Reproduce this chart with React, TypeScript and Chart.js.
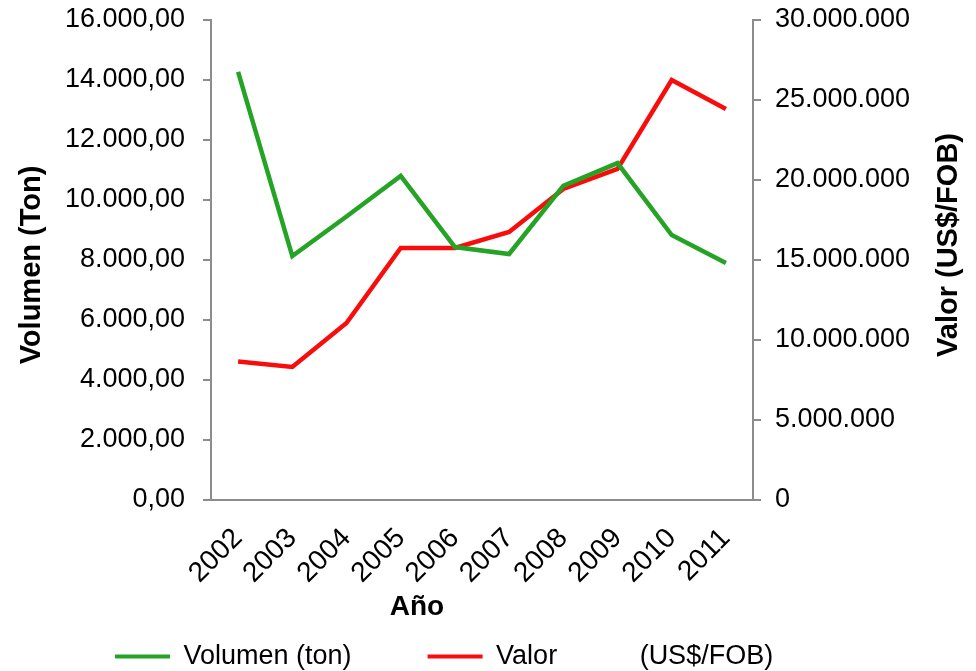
import React, { useEffect, useRef } from 'react';
import { Chart, registerables } from 'chart.js';

Chart.register(...registerables);

const FONT = '"Liberation Sans", Arial, sans-serif';

const years = ['2002', '2003', '2004', '2005', '2006', '2007', '2008', '2009', '2010', '2011'];
const volumenTon = [14270, 8130, 9450, 10800, 8430, 8200, 10470, 11230, 8830, 7900];
const valorUSD = [8650000, 8310000, 11060000, 15750000, 15750000, 16750000, 19440000, 20690000, 26250000, 24440000];

const seriesNames = ['Volumen (ton)', 'Valor           (US$/FOB)'];
const yLeftTitle = 'Volumen (Ton)';
const yRightTitle = 'Valor (US$/FOB)';
const xTitle = 'Año';

const leftMax = 16000;
const leftStep = 2000;
const rightMax = 30000000;
const rightStep = 5000000;

const GREEN = '#25a325';
const RED = '#f80c0c';
const AXIS = '#8c8c8c';

function thousands(n: number): string {
  return Math.round(n).toString().replace(/\B(?=(\d{3})+(?!\d))/g, '.');
}

const titlesPlugin = {
  id: 'customTitles',
  afterLayout(chart: any) {
    const xs = chart.scales.x;
    if (xs) xs.bottom = xs.top + 150;
  },
  afterDraw(chart: any) {
    const { ctx, chartArea } = chart;
    const midY = (chartArea.top + chartArea.bottom) / 2;
    ctx.save();
    ctx.fillStyle = '#000';
    ctx.font = `bold 29px ${FONT}`;
    ctx.textAlign = 'center';
    ctx.textBaseline = 'middle';
    ctx.save();
    ctx.translate(32, midY + 5);
    ctx.rotate(-Math.PI / 2);
    ctx.fillText(yLeftTitle, 0, 0);
    ctx.restore();
    ctx.save();
    ctx.translate(chart.width - 27, midY - 15);
    ctx.rotate(-Math.PI / 2);
    ctx.fillText(yRightTitle, 0, 0);
    ctx.restore();
    ctx.font = `bold 28px ${FONT}`;
    ctx.fillText(xTitle, chartArea.left + chartArea.width * 0.38, chartArea.bottom + 107);
    ctx.restore();
  },
};

export default function App() {
  const canvasRef = useRef<HTMLCanvasElement | null>(null);

  useEffect(() => {
    const canvas = canvasRef.current;
    if (!canvas) return;
    const tickFont = { family: FONT, size: 27 };
    const chart = new Chart(canvas, {
      type: 'line',
      data: {
        labels: years,
        datasets: [
          {
            label: seriesNames[0],
            data: volumenTon,
            borderColor: GREEN,
            backgroundColor: GREEN,
            borderWidth: 4.5,
            pointRadius: 0,
            tension: 0,
            yAxisID: 'y',
          },
          {
            label: seriesNames[1],
            data: valorUSD,
            borderColor: RED,
            backgroundColor: RED,
            borderWidth: 4.5,
            pointRadius: 0,
            tension: 0,
            yAxisID: 'y1',
          },
        ],
      },
      options: {
        animation: false,
        responsive: true,
        maintainAspectRatio: false,
        layout: { padding: { left: 39, right: 0, top: 0, bottom: -9 } },
        plugins: {
          tooltip: { enabled: false },
          legend: {
            display: true,
            position: 'bottom',
            align: 'start',
            labels: {
              boxWidth: 55,
              boxHeight: 4,
              padding: 76,
              color: '#000',
              font: { family: FONT, size: 27 },
              generateLabels: (c: any) =>
                Chart.defaults.plugins.legend.labels.generateLabels(c).map((it: any) => ({
                  ...it,
                  fillStyle: it.strokeStyle,
                  lineWidth: 0,
                })),
            },
          },
        },
        scales: {
          x: {
            offset: true,
            grid: { display: false, drawTicks: false },
            border: { display: true, color: AXIS, width: 2 },
            ticks: {
              autoSkip: false,
              minRotation: 45,
              maxRotation: 45,
              padding: 22,
              color: '#000',
              font: { family: FONT, size: 28 },
            },
            afterFit: (s: any) => {
              s.height = 67;
            },
          },
          y: {
            position: 'left',
            min: 0,
            max: leftMax,
            grid: { drawOnChartArea: false, drawTicks: true, tickLength: 8, color: AXIS, lineWidth: 2 },
            border: { display: true, color: AXIS, width: 2 },
            ticks: {
              stepSize: leftStep,
              padding: 18,
              color: '#000',
              font: tickFont,
              callback: (v: any) => thousands(Number(v)) + ',00',
            },
            afterFit: (s: any) => {
              s.width = 172;
              s.paddingTop = 20;
              s.paddingBottom = 0;
            },
          },
          y1: {
            position: 'right',
            min: 0,
            max: rightMax,
            grid: { drawOnChartArea: false, drawTicks: true, tickLength: 8, color: AXIS, lineWidth: 2 },
            border: { display: true, color: AXIS, width: 2 },
            ticks: {
              stepSize: rightStep,
              padding: 14,
              color: '#000',
              font: tickFont,
              callback: (v: any) => thousands(Number(v)),
            },
            afterFit: (s: any) => {
              s.width = 223;
              s.paddingTop = 20;
              s.paddingBottom = 0;
            },
          },
        },
      },
      plugins: [titlesPlugin],
    } as any);
    return () => chart.destroy();
  }, []);

  return (
    <div style={{ position: 'fixed', left: 0, top: 0, width: '976px', height: '671px', background: '#fff' }}>
      <canvas ref={canvasRef} />
    </div>
  );
}
